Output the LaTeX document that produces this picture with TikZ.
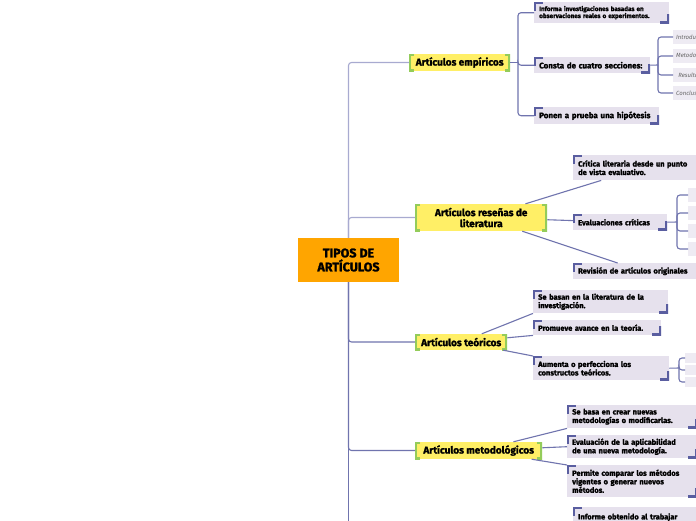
\documentclass[tikz,border=0pt]{standalone}
\usepackage{fontspec}
\setmainfont{Fira Sans}[BoldFeatures={FakeBold=1.6}]
\usetikzlibrary{backgrounds}
\definecolor{orangex}{HTML}{FFA500}
\definecolor{yelx}{HTML}{FFEF66}
\definecolor{greenx}{HTML}{94CC5A}
\definecolor{lavx}{HTML}{E6E1ED}
\definecolor{leafx}{HTML}{EEEBF3}
\definecolor{brackx}{HTML}{5A5EA0}
\definecolor{linkx}{HTML}{7074AE}
\definecolor{lightlinkx}{HTML}{A8AAD0}
\tikzset{
  root/.style={fill=orangex,font=\bfseries\fontsize{12.5}{14}\selectfont,align=center,
    minimum width=101pt,minimum height=44pt},
  topic/.style={fill=yelx,font=\bfseries\fontsize{10}{11}\selectfont,align=center,anchor=west,inner sep=2pt,
    path picture={\draw[greenx,line width=4pt]
      ([xshift=5pt]path picture bounding box.north west) -- (path picture bounding box.north west)
      -- (path picture bounding box.south west) -- ([xshift=5pt]path picture bounding box.south west)
      ([xshift=-5pt]path picture bounding box.north east) -- (path picture bounding box.north east)
      -- (path picture bounding box.south east) -- ([xshift=-5pt]path picture bounding box.south east);}},
  sub/.style={fill=lavx,font=\bfseries\fontsize{7.5}{8.5}\selectfont,align=left,anchor=north west,
    inner xsep=5pt,inner ysep=1pt,
    path picture={\draw[brackx,line width=3.6pt]
      ([yshift=-9pt]path picture bounding box.north west) -- (path picture bounding box.north west)
      -- ([xshift=9pt]path picture bounding box.north west)
      ([yshift=9pt]path picture bounding box.south east) -- (path picture bounding box.south east)
      -- ([xshift=-9pt]path picture bounding box.south east);}},
  leaf/.style={fill=leafx,font=\itshape\fontsize{6}{7}\selectfont,text=black!60,anchor=west,
    align=left,inner xsep=3pt,minimum width=40pt,minimum height=14pt},
  link/.style={linkx,line width=1.1pt},
  linkup/.style={lightlinkx,line width=1.1pt,rounded corners=3pt},
  elbow/.style={link,rounded corners=3pt}
}

\begin{document}
\begin{tikzpicture}[x=1pt,y=-1pt]
\fill[white] (0,0) rectangle (696,520);
\clip (0,0) rectangle (696,520);

% centre
\node[root] (tipos) at (348.5,260) {TIPOS DE\\ARTÍCULOS};
\begin{scope}[on background layer]
\draw[greenx!80!white,line width=4pt] ([yshift=-14pt]tipos.north west) -- (tipos.north west) -- ([xshift=10pt]tipos.north west);
\draw[greenx!80!white,line width=4pt] ([yshift=14pt]tipos.south east) -- (tipos.south east) -- ([xshift=-10pt]tipos.south east);
\end{scope}

% ramas principales
\node[topic,minimum width=101pt,minimum height=17pt] (emp) at (409,62.5) {Artículos empíricos};
\node[topic,minimum width=132pt,minimum height=27pt] (res) at (415,217.5) {Artículos reseñas de\\literatura};
\node[topic,minimum width=92pt,minimum height=16pt] (teo) at (415,342) {Artículos teóricos};
\node[topic,minimum width=127pt,minimum height=17pt] (met) at (415,450.5) {Artículos metodológicos};
\coordinate (quinto) at (348.5,530);

\draw[linkup] (tipos.north) |- (emp.west);
\draw[linkup] (tipos.north) |- (res.west);
\draw[elbow] (tipos.south) |- (teo.west);
\draw[elbow] (tipos.south) |- (met.west);
\draw[link] (tipos.south) -- (quinto);

% empiricos
\node[sub,text width=125pt,minimum height=21pt,font=\bfseries\fontsize{6.3}{7}\selectfont] (inf) at (534,2)
  {Informa investigaciones basadas en\\observaciones reales o experimentos.};
\node[sub,text width=106pt,minimum height=16pt,font=\bfseries\fontsize{8}{9}\selectfont] (con) at (534,57) {Consta de cuatro secciones:};
\node[sub,text width=115pt,minimum height=17pt,font=\bfseries\fontsize{8}{9}\selectfont] (pon) at (534,107) {Ponen a prueba una hipótesis};
\coordinate (empj) at (518,62.5);
\draw[link] (emp.east) -- (empj);
\draw[elbow] (empj) |- (inf.west);
\draw[elbow] (empj) |- (con.west);
\draw[elbow] (empj) |- (pon.west);

\node[leaf] (intro) at (673,37) {Introducción};
\node[leaf] (metod) at (673,56) {Metodología};
\node[leaf] (resul) at (673,75) {Resultados};
\node[leaf] (concl) at (673,93) {Conclusiones};
\coordinate (conj) at (658,65);
\draw[link] (con.east) -- (conj);
\foreach \n in {intro,metod,resul,concl}{\draw[elbow] (conj) |- (\n.west);}

% reseñas
\node[sub,text width=128pt,minimum height=25pt] (cri) at (573,155) {Crítica literaria desde un punto\\de vista evaluativo.};
\node[sub,text width=84pt,minimum height=16pt] (eva) at (573,214) {Evaluaciones críticas};
\node[sub,text width=128pt,minimum height=16pt] (rev) at (573,263) {Revisión de artículos originales};
\draw[link] (res) -- (cri);
\draw[link] (res) -- (eva);
\draw[link] (res) -- (rev);

\coordinate (evaj) at (677,222);
\draw[link] (eva.east) -- (evaj);
\foreach \y [count=\i] in {195,213,231,249}{
  \node[leaf,minimum width=20pt] (eva\i) at (688,\y) {};
  \draw[elbow] (evaj) |- (eva\i.west);
}

% teoricos
\node[sub,text width=125pt,minimum height=23pt] (sb) at (533,290) {Se basan en la literatura de la\\investigación.};
\node[sub,text width=118pt,minimum height=15pt] (pro) at (533,320) {Promueve avance en la teoría.};
\node[sub,text width=126pt,minimum height=24pt] (aum) at (533,356) {Aumenta o perfecciona los\\constructos teóricos.};
\draw[link] (teo) -- (sb.south west);
\draw[link] (teo) -- (pro.south west);
\draw[link] (teo) -- (aum.north west);

\coordinate (aumj) at (679,368);
\draw[link] (aum.east) -- (aumj);
\foreach \y [count=\i] in {358,370,382}{
  \node[leaf,minimum width=20pt,minimum height=10pt] (aum\i) at (685,\y) {};
  \draw[elbow] (aumj) |- (aum\i.west);
}

% metodologicos
\node[sub,text width=120pt,minimum height=23pt] (cre) at (567,405) {Se basa en crear nuevas\\metodologías o modificarlas.};
\node[sub,text width=120pt,minimum height=23pt] (apl) at (567,435) {Evaluación de la aplicabilidad\\de una nueva metodología.};
\node[sub,text width=120pt,minimum height=32pt] (per) at (567,465) {Permite comparar los métodos\\vigentes o generar nuevos\\métodos.};
\draw[link] (met) -- (cre.south west);
\draw[link] (met) -- (apl.west);
\draw[link] (met) -- (per.north west);

\node[sub,text width=120pt,minimum height=20pt] (infm) at (573,507) {Informe obtenido al trabajar};
\end{tikzpicture}
\end{document}
